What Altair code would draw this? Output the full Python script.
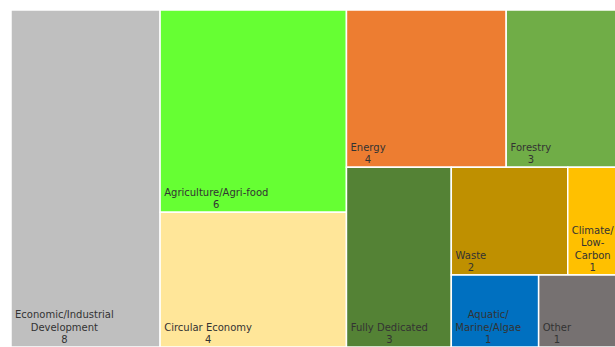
import altair as alt
import pandas as pd

# ---------------- data ----------------
categories = [
    "Economic/Industrial Development", "Agriculture/Agri-food", "Circular Economy",
    "Energy", "Forestry", "Fully Dedicated", "Waste", "Climate/Low-Carbon",
    "Aquatic/Marine/Algae", "Other",
]
labels = [
    "Economic/Industrial\nDevelopment", "Agriculture/Agri-food", "Circular Economy",
    "Energy", "Forestry", "Fully Dedicated", "Waste", "Climate/\nLow-\nCarbon",
    "Aquatic/\nMarine/Algae", "Other",
]
counts = [8, 6, 4, 4, 3, 3, 2, 1, 1, 1]
colors = [
    "#BFBFBF", "#66FF33", "#FFE699", "#ED7D31", "#70AD47",
    "#548235", "#BF9000", "#FFC000", "#0070C0", "#767171",
]

# treemap nesting (indices into the lists): "h" = side by side, "v" = stacked
tree = ("h", [0, ("v", [1, 2]),
              ("v", [("h", [3, 4]),
                     ("h", [5, ("v", [("h", [6, 7]), ("h", [8, 9])])])])])

TOTAL_W, TOTAL_H = 615.0, 337.0   # full treemap extent (reference is cropped on the right)
VIEW_W, VIEW_H = 604, 337
FONT_SIZE = 10
LINE_H = 12.5

# DejaVu Sans advance widths (em fraction) for text-block centring
CW = {' ': .318, '/': .337, '-': .361, 'A': .684, 'C': .698, 'D': .770, 'E': .632,
      'F': .575, 'I': .295, 'L': .557, 'M': .863, 'O': .787, 'W': .989,
      'a': .613, 'b': .635, 'c': .550, 'd': .635, 'e': .615, 'f': .352, 'g': .635,
      'h': .634, 'i': .278, 'l': .278, 'm': .974, 'n': .634, 'o': .612, 'p': .635,
      'r': .411, 's': .521, 't': .392, 'u': .634, 'v': .592, 'w': .818, 'y': .592}


def text_w(s):
    return sum(CW.get(ch, .636) for ch in s) * FONT_SIZE


def total(node):
    if isinstance(node, int):
        return counts[node]
    return sum(total(c) for c in node[1])


rects = {}


def layout(node, x0, y0, x1, y1):
    if isinstance(node, int):
        rects[node] = (x0, y0, x1, y1)
        return
    kind, kids = node
    s = total(node)
    pos = x0 if kind == "h" else y0
    for k in kids:
        frac = total(k) / s
        if kind == "h":
            step = (x1 - x0) * frac
            layout(k, pos, y0, pos + step, y1)
        else:
            step = (y1 - y0) * frac
            layout(k, x0, pos, x1, pos + step)
        pos += step


layout(tree, 0.0, 0.0, TOTAL_W, TOTAL_H)

rows = []
for i, cat in enumerate(categories):
    x0, y0, x1, y1 = rects[i]
    lines = labels[i].split("\n") + [str(counts[i])]
    block = max(text_w(l) for l in lines)
    rows.append({
        "category": cat,
        "count": counts[i],
        "x0": x0, "x1": x1, "y0": y0, "y1": y1,
        "tx": x0 + 4 + block / 2,
        "ty": y1 - 2 - (len(lines) - 1) * LINE_H,
        "text": "\n".join(lines),
    })
df = pd.DataFrame(rows)

xs = alt.Scale(domain=[0, VIEW_W], nice=False, zero=False)
ys = alt.Scale(domain=[0, VIEW_H], nice=False, zero=False, reverse=True)

cells = alt.Chart(df).mark_rect(stroke="white", strokeWidth=1.5, clip=True).encode(
    x=alt.X("x0:Q", scale=xs, axis=None),
    x2="x1:Q",
    y=alt.Y("y0:Q", scale=ys, axis=None),
    y2="y1:Q",
    color=alt.Color("category:N", scale=alt.Scale(domain=categories, range=colors), legend=None),
    tooltip=["category:N", "count:Q"],
)

texts = alt.Chart(df).mark_text(
    font="DejaVu Sans", fontSize=FONT_SIZE, color="#333333", align="center",
    baseline="bottom", lineBreak="\n", lineHeight=LINE_H, clip=True,
).encode(
    x=alt.X("tx:Q", scale=xs, axis=None),
    y=alt.Y("ty:Q", scale=ys, axis=None),
    text="text:N",
)

chart = alt.layer(cells, texts).properties(
    width=VIEW_W, height=VIEW_H,
    padding={"left": 11, "top": 10, "right": 0, "bottom": 0},
    autosize=alt.AutoSizeParams(type="none"),
    background="white",
).configure_view(stroke=None)

chart.save("out.html", embed_options={"renderer": "svg", "actions": False})
